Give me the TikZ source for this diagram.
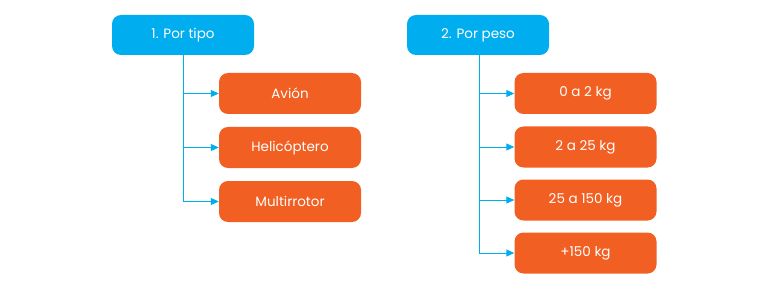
\documentclass[tikz,border=0pt]{standalone}
\usepackage{fontspec}
\setmainfont{Poppins}
\usetikzlibrary{arrows.meta}
\definecolor{hblue}{HTML}{00AEEF}
\definecolor{horange}{HTML}{F15F22}
\begin{document}
\begin{tikzpicture}[x=1pt,y=-1pt,
  headbox/.style={fill=hblue,rounded corners=9pt,minimum width=142pt,minimum height=40pt,text=white,font=\fontsize{13.5}{15}\selectfont,inner sep=0pt},
  itembox/.style={fill=horange,rounded corners=9pt,minimum width=142pt,minimum height=41pt,text=white,font=\fontsize{13.5}{15}\selectfont,inner sep=0pt},
  conn/.style={draw=hblue,line width=1pt},
  arr/.style={conn,-{Triangle[length=8pt,width=7pt]}}]
\useasboundingbox (0,0) rectangle (768,286);
\node[headbox] (h1) at (183,35) {1. Por tipo};
\node[itembox] (a1) at (290,93.5) {Avión};
\node[itembox] (a2) at (290,147.5) {Helicóptero};
\node[itembox] (a3) at (290,201.5) {Multirrotor};
\coordinate (j1) at (183,93.5);
\coordinate (j2) at (183,147.5);
\coordinate (j3) at (183,201.5);
\draw[conn] (h1.south) -- (j3);
\draw[arr] (j1) -- (a1.west);
\draw[arr] (j2) -- (a2.west);
\draw[arr] (j3) -- (a3.west);
\node[headbox] (h2) at (478,35) {2. Por peso};
\node[itembox] (b1) at (585.5,93.5) {0 a 2 kg};
\node[itembox] (b2) at (585.5,147) {2 a 25 kg};
\node[itembox] (b3) at (585.5,200) {25 a 150 kg};
\node[itembox] (b4) at (585.5,253) {+150 kg};
\coordinate (k1) at (479,93.5);
\coordinate (k2) at (479,147);
\coordinate (k3) at (479,200);
\coordinate (k4) at (479,253);
\draw[conn] (h2.south -| k1) -- (k4);
\draw[arr] (k1) -- (b1.west);
\draw[arr] (k2) -- (b2.west);
\draw[arr] (k3) -- (b3.west);
\draw[arr] (k4) -- (b4.west);
\end{tikzpicture}
\end{document}
